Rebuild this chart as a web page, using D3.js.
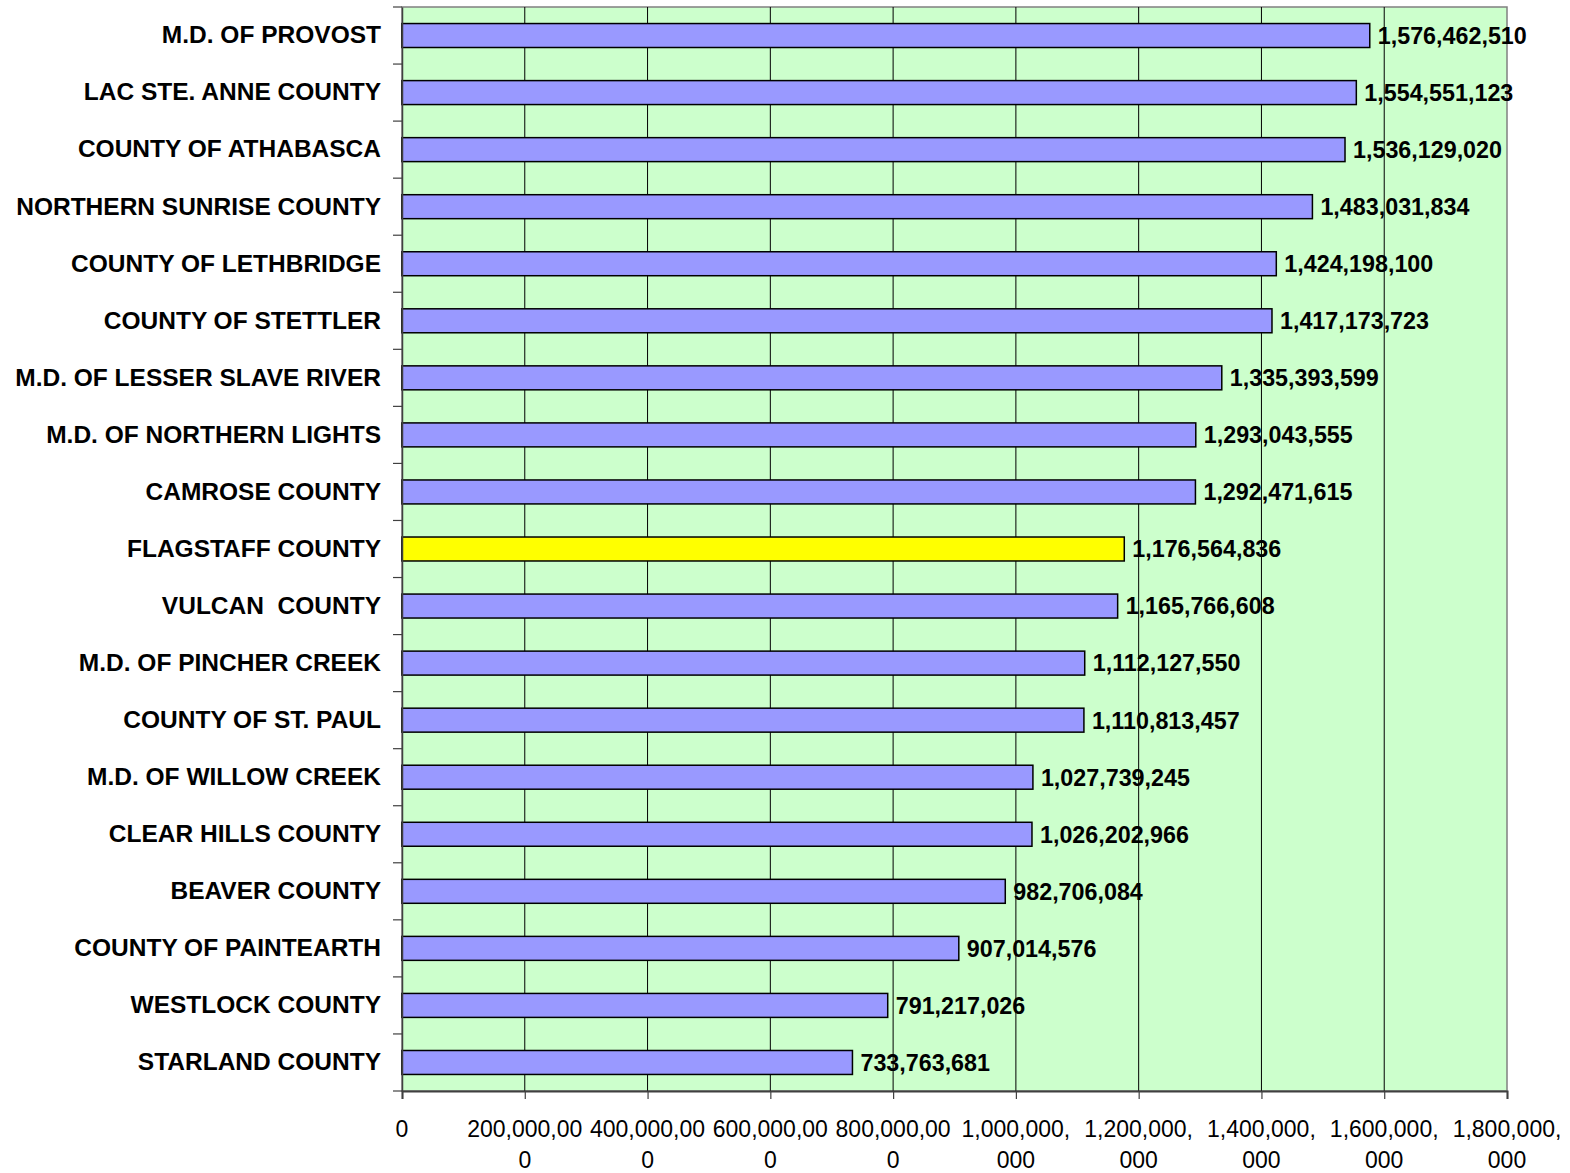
<!DOCTYPE html>
<html>
<head>
<meta charset="utf-8">
<script src="https://cdn.jsdelivr.net/npm/d3@7"></script>
<style>
  html, body { margin: 0; padding: 0; background: #ffffff; }
  svg { display: block; }
</style>
</head>
<body>
<script>
// Municipal districts and counties, ranked by assessment value
const categories = [
  "M.D. OF PROVOST",
  "LAC STE. ANNE COUNTY",
  "COUNTY OF ATHABASCA",
  "NORTHERN SUNRISE COUNTY",
  "COUNTY OF LETHBRIDGE",
  "COUNTY OF STETTLER",
  "M.D. OF LESSER SLAVE RIVER",
  "M.D. OF NORTHERN LIGHTS",
  "CAMROSE COUNTY",
  "FLAGSTAFF COUNTY",
  "VULCAN  COUNTY",
  "M.D. OF PINCHER CREEK",
  "COUNTY OF ST. PAUL",
  "M.D. OF WILLOW CREEK",
  "CLEAR HILLS COUNTY",
  "BEAVER COUNTY",
  "COUNTY OF PAINTEARTH",
  "WESTLOCK COUNTY",
  "STARLAND COUNTY"
];

const values = [
  1576462510,
  1554551123,
  1536129020,
  1483031834,
  1424198100,
  1417173723,
  1335393599,
  1293043555,
  1292471615,
  1176564836,
  1165766608,
  1112127550,
  1110813457,
  1027739245,
  1026202966,
  982706084,
  907014576,
  791217026,
  733763681
];

const highlighted = ["FLAGSTAFF COUNTY"];

const xTicks = [0, 200000000, 400000000, 600000000, 800000000,
                1000000000, 1200000000, 1400000000, 1600000000, 1800000000];

const W = 1570, H = 1173;
const margin = { left: 402, right: 63, top: 7, bottom: 82 };
const plotW = W - margin.left - margin.right;
const plotH = H - margin.top - margin.bottom;

const svg = d3.select("body").append("svg")
  .attr("width", W).attr("height", H);

const g = svg.append("g").attr("transform", `translate(${margin.left},${margin.top})`);

const x = d3.scaleLinear().domain([0, 1800000000]).range([0, plotW]);
const y = d3.scaleBand().domain(categories).range([0, plotH])
  .paddingInner(0.58).paddingOuter(0.29);

const fontFamily = "Arial, 'Liberation Sans', Helvetica, sans-serif";

// plot background
g.append("rect")
  .attr("x", 0).attr("y", 0).attr("width", plotW).attr("height", plotH)
  .attr("fill", "#CCFFCC")
  .attr("stroke", "#808080").attr("stroke-width", 1.5);

// vertical gridlines
g.append("g").selectAll("line")
  .data(xTicks.slice(1, -1))
  .join("line")
  .attr("x1", d => x(d)).attr("x2", d => x(d))
  .attr("y1", 0).attr("y2", plotH)
  .attr("stroke", "#000000").attr("stroke-width", 1);

// bars
g.append("g").selectAll("rect")
  .data(categories)
  .join("rect")
  .attr("x", 0)
  .attr("y", d => y(d))
  .attr("width", (d, i) => x(values[i]))
  .attr("height", y.bandwidth())
  .attr("fill", d => highlighted.includes(d) ? "#FFFF00" : "#9999FF")
  .attr("stroke", "#000000").attr("stroke-width", 1.5);

// value labels
g.append("g").selectAll("text")
  .data(categories)
  .join("text")
  .attr("x", (d, i) => x(values[i]) + 8)
  .attr("y", d => y(d) + y.bandwidth() / 2)
  .attr("dy", "0.36em")
  .attr("font-family", fontFamily)
  .attr("font-weight", "bold")
  .attr("font-size", 23.3)
  .attr("fill", "#000000")
  .text((d, i) => d3.format(",")(values[i]));

// category axis
const yAxis = g.append("g")
  .call(d3.axisLeft(y).tickSize(0).tickPadding(21));
yAxis.select(".domain").attr("stroke", "#404040").attr("stroke-width", 1.5);
yAxis.selectAll("text")
  .attr("font-family", fontFamily)
  .attr("font-weight", "bold")
  .attr("font-size", 24.5)
  .attr("fill", "#000000")
  .style("white-space", "pre");

// category separator ticks
g.append("g").selectAll("line")
  .data(d3.range(categories.length + 1))
  .join("line")
  .attr("x1", -9).attr("x2", 0)
  .attr("y1", i => i * plotH / categories.length)
  .attr("y2", i => i * plotH / categories.length)
  .attr("stroke", "#404040").attr("stroke-width", 1.2);

// value axis
const xAxis = g.append("g")
  .attr("transform", `translate(0,${plotH})`)
  .call(d3.axisBottom(x).tickValues(xTicks).tickSize(8).tickFormat(""));
xAxis.select(".domain").attr("stroke", "#404040").attr("stroke-width", 2);
xAxis.selectAll(".tick line").attr("stroke", "#404040").attr("stroke-width", 1.2);

// wrapped tick labels
const tickLabels = g.append("g").selectAll("text")
  .data(xTicks)
  .join("text")
  .attr("x", d => x(d))
  .attr("y", plotH + 46)
  .attr("text-anchor", "middle")
  .attr("font-family", fontFamily)
  .attr("font-size", 23)
  .attr("fill", "#000000");

tickLabels.each(function(d) {
  const s = d3.format(",")(d);
  const lines = s.length > 10 ? [s.slice(0, 10), s.slice(10)] : [s];
  d3.select(this).selectAll("tspan")
    .data(lines)
    .join("tspan")
    .attr("x", x(d))
    .attr("dy", (l, i) => i === 0 ? 0 : 31)
    .text(l => l);
});
</script>
</body>
</html>
